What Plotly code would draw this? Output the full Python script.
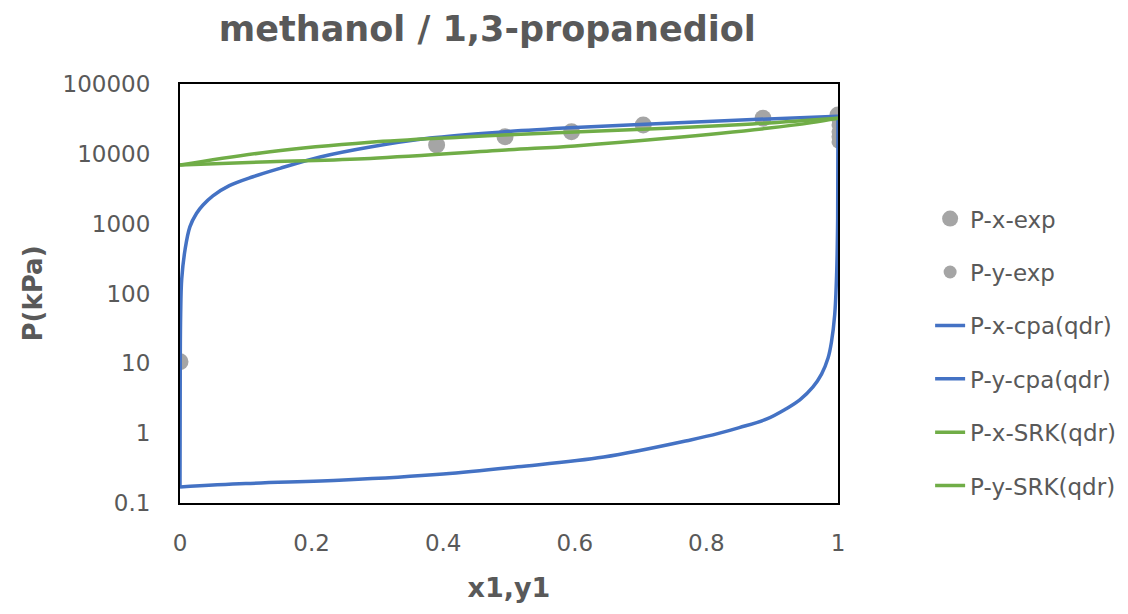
import plotly.graph_objects as go

# Experimental bubble points (liquid mole fraction of methanol, pressure in kPa)
exp_x = [0.0, 0.39, 0.494, 0.595, 0.704, 0.886, 1.0]
exp_x_P = [10.5, 13400, 17600, 20700, 25900, 32300, 36000]

# Experimental dew points (vapour mole fraction of methanol, pressure in kPa)
exp_y = [1.0, 1.0, 1.0, 1.0, 1.0]
exp_y_P = [14800, 17600, 20700, 25900, 30500]

# CPA model, bubble curve
cpa_x = [0.0, 0.0004, 0.001, 0.0026, 0.0076, 0.015, 0.025, 0.035, 0.05, 0.075,
         0.111, 0.152, 0.213, 0.289, 0.38, 0.49, 0.6, 0.74, 0.87, 1.0]
cpa_x_P = [0.17, 10, 50, 160, 420, 900, 1400, 1850, 2500, 3500,
           4700, 6200, 9000, 12500, 16800, 20600, 23800, 27500, 31000, 34500]

# CPA model, dew curve
cpa_y = [0.0, 0.1, 0.249, 0.4, 0.513, 0.644, 0.776, 0.82, 0.85, 0.892, 0.92,
         0.942, 0.962, 0.975, 0.985, 0.99, 0.995, 0.998, 0.9995, 1.0]
cpa_y_P = [0.17, 0.19, 0.213, 0.26, 0.33, 0.455, 0.80, 1.0, 1.2, 1.6, 2.2,
           3.0, 4.6, 7.0, 12, 20, 50, 200, 1200, 34500]

# SRK model, bubble curve
srk_x = [0.0, 0.137, 0.289, 0.426, 0.5, 0.6, 0.74, 0.87, 1.0]
srk_x_P = [6900, 10700, 14600, 17300, 18800, 20600, 23200, 26800, 32300]

# SRK model, dew curve
srk_y = [0.0, 0.137, 0.289, 0.5, 0.6, 0.74, 0.892, 0.96, 1.0]
srk_y_P = [6900, 7700, 8600, 11400, 13000, 16700, 23200, 28000, 32300]

# Axis ticks
x_ticks = [0, 0.2, 0.4, 0.6, 0.8, 1]
x_tick_text = ["0", "0.2", "0.4", "0.6", "0.8", "1"]
y_ticks = [0.1, 1, 10, 100, 1000, 10000, 100000]
y_tick_text = ["0.1", "1", "10", "100", "1000", "10000", "100000"]

GREY = "#A5A5A5"
BLUE = "#4472C4"
GREEN = "#70AD47"
TEXT = "#595959"
FONT = "DejaVu Sans"
LW = 3.5

fig = go.Figure()

fig.add_trace(go.Scatter(x=exp_x, y=exp_x_P, mode="markers", name="P-x-exp",
                         legendgroup="a",
                         marker=dict(color=GREY, size=17, line=dict(width=0))))
fig.add_trace(go.Scatter(x=exp_y, y=exp_y_P, mode="markers", name="P-y-exp",
                         legendgroup="b",
                         marker=dict(color=GREY, size=13, line=dict(width=0))))
fig.add_trace(go.Scatter(x=cpa_x, y=cpa_x_P, mode="lines", name="P-x-cpa(qdr)",
                         legendgroup="c",
                         line=dict(color=BLUE, width=LW, shape="spline", smoothing=1)))
fig.add_trace(go.Scatter(x=cpa_y, y=cpa_y_P, mode="lines", name="P-y-cpa(qdr)",
                         legendgroup="d",
                         line=dict(color=BLUE, width=LW, shape="spline", smoothing=1)))
fig.add_trace(go.Scatter(x=srk_x, y=srk_x_P, mode="lines", name="P-x-SRK(qdr)",
                         legendgroup="e",
                         line=dict(color=GREEN, width=LW, shape="spline", smoothing=1)))
fig.add_trace(go.Scatter(x=srk_y, y=srk_y_P, mode="lines", name="P-y-SRK(qdr)",
                         legendgroup="f",
                         line=dict(color=GREEN, width=LW, shape="spline", smoothing=1)))

fig.update_layout(
    width=1128, height=614,
    margin=dict(l=180, r=290, t=84, b=111, autoexpand=False),
    paper_bgcolor="white", plot_bgcolor="white",
    font=dict(family=FONT, color=TEXT),
    title=dict(text="<b>methanol / 1,3-propanediol</b>",
               x=0.432, xanchor="center", y=0.953, yanchor="middle",
               font=dict(size=35, color=TEXT, family=FONT)),
    showlegend=True,
    legend=dict(x=1.14, xanchor="left", y=0.36, yanchor="middle",
                font=dict(size=23, color=TEXT, family=FONT),
                traceorder="grouped", tracegroupgap=20.5,
                bgcolor="rgba(0,0,0,0)", itemsizing="trace"),
)

fig.update_xaxes(
    range=[0, 1], tickvals=x_ticks, ticktext=x_tick_text,
    showgrid=False, zeroline=False,
    showline=True, linecolor="black", linewidth=2, mirror=True,
    ticks="", ticklabelstandoff=18,
    tickfont=dict(size=23, color=TEXT, family=FONT),
    title=dict(text="<b>x1,y1</b>", standoff=24,
               font=dict(size=27, color=TEXT, family=FONT)),
)
fig.update_yaxes(
    type="log", range=[-1, 5], tickvals=y_ticks, ticktext=y_tick_text,
    showgrid=False, zeroline=False,
    showline=True, linecolor="black", linewidth=2, mirror=True,
    ticks="", ticklabelstandoff=23,
    tickfont=dict(size=23, color=TEXT, family=FONT),
    title=dict(text="<b>P(kPa)</b>", standoff=12,
               font=dict(size=26, color=TEXT, family=FONT)),
)

fig.write_html("out.html")
